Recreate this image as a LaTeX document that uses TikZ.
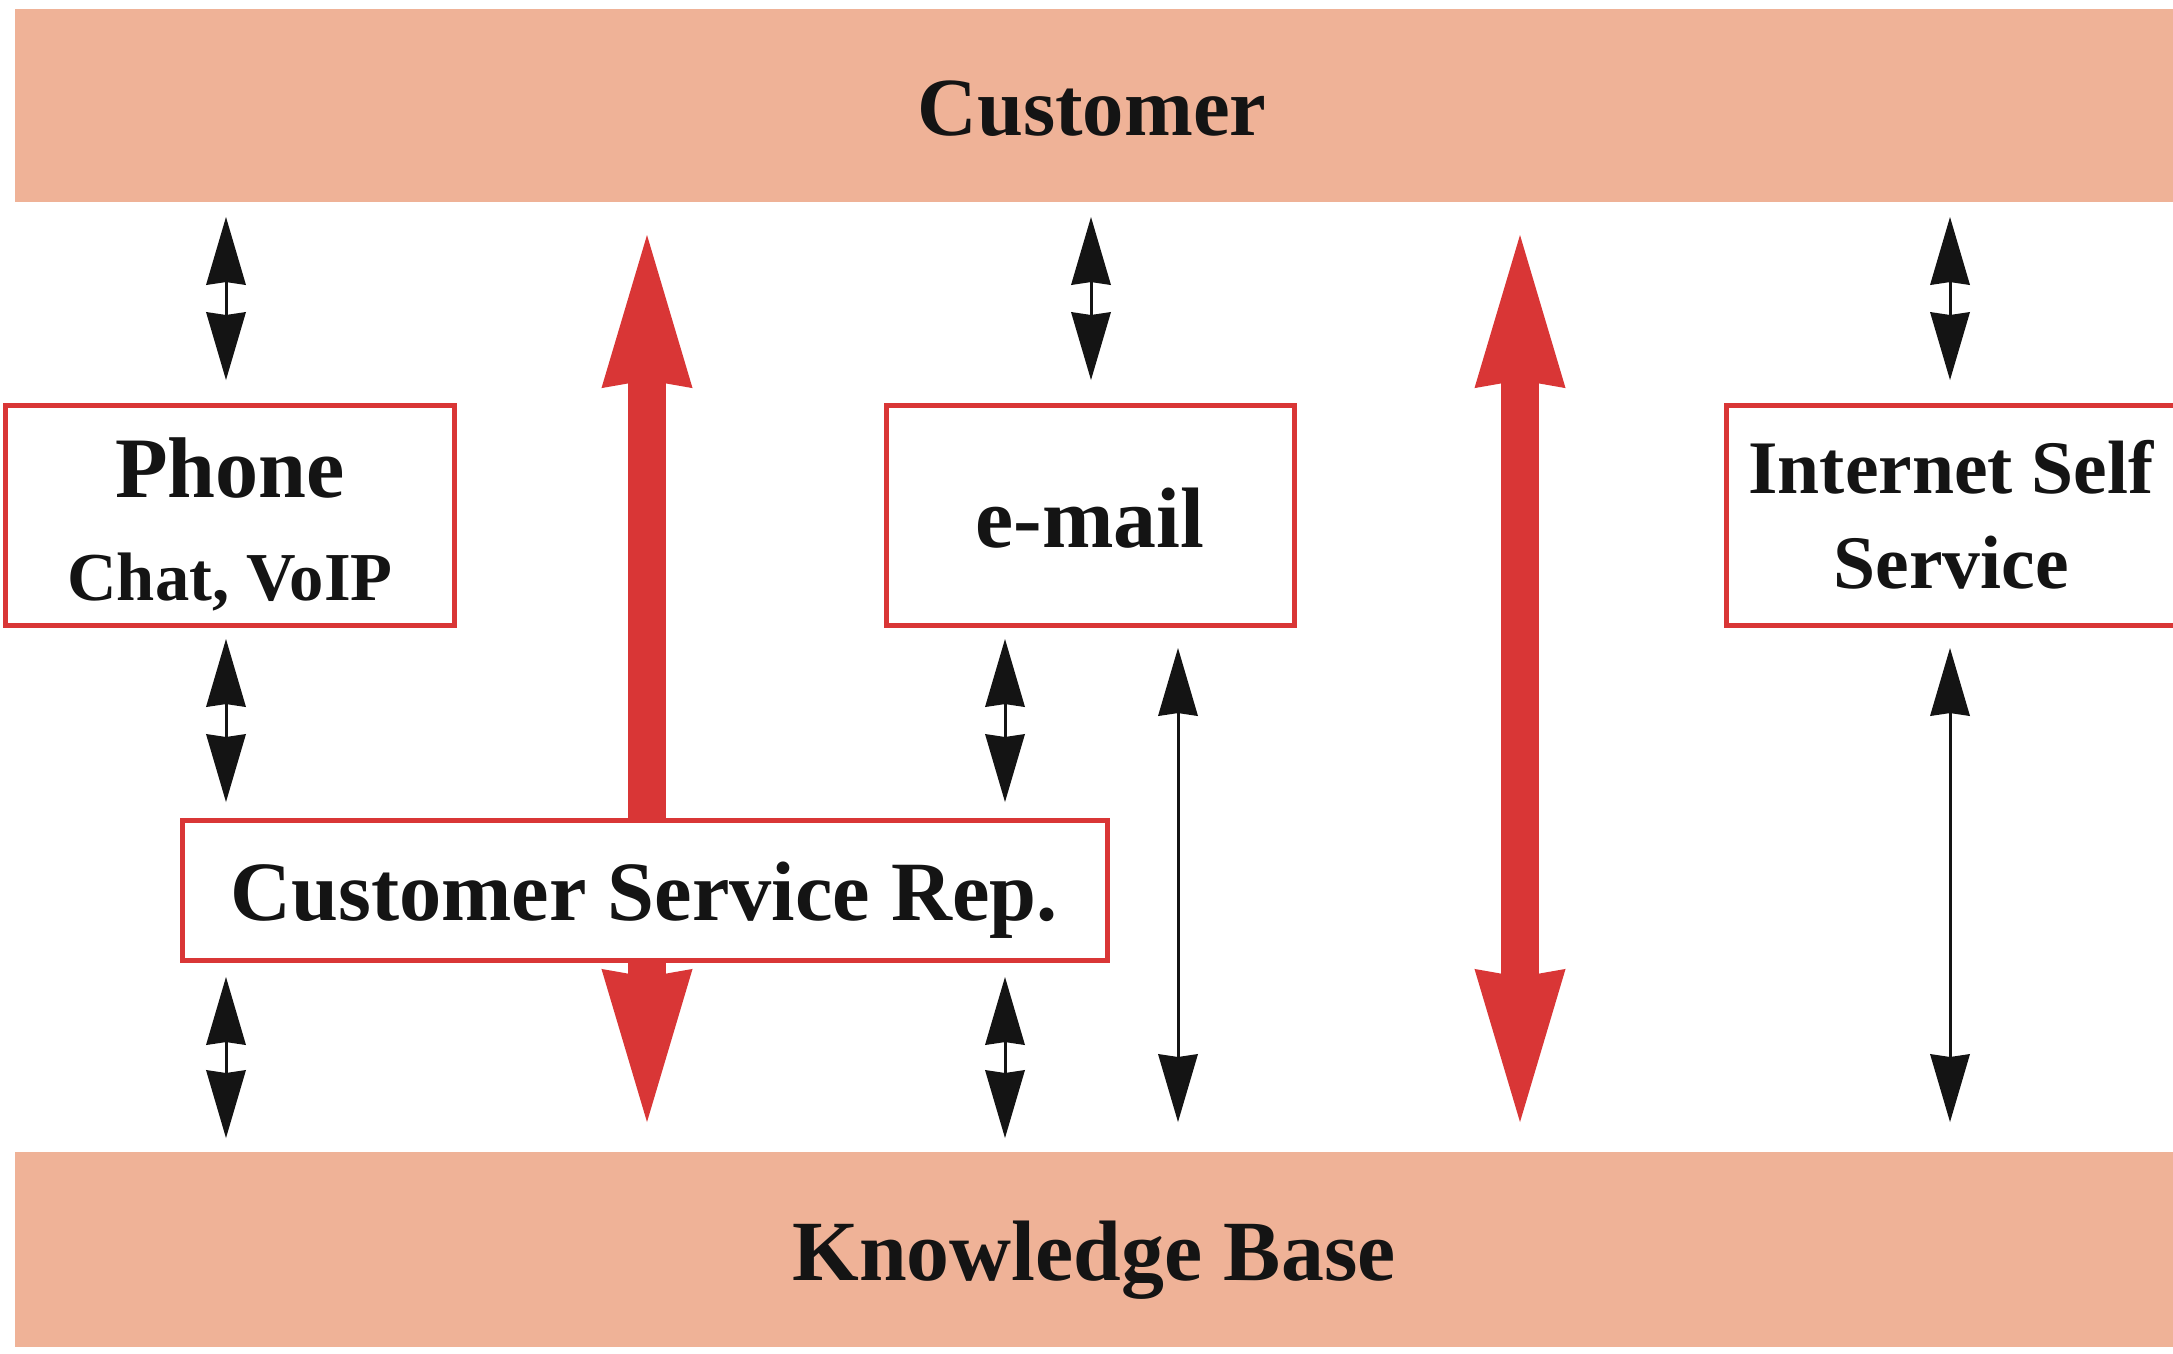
\documentclass[tikz,border=0pt]{standalone}
\usepackage{fontspec}
\setmainfont{Liberation Serif}
\usetikzlibrary{arrows.meta}
\definecolor{band}{RGB}{239,178,151}
\definecolor{myred}{RGB}{217,54,54}
\definecolor{ink}{RGB}{20,20,20}
\tikzset{
  bandbox/.style={fill=band, draw=none, inner sep=0, minimum width=21.74cm},
  chanbox/.style={draw=myred, fill=white, line width=0.5mm, inner sep=0},
  lbl/.style={anchor=base, inner sep=0, text=ink},
  redarrow/.style={myred, line width=3.8mm, {Stealth[length=15.3mm,width=9.1mm,inset=0.8mm,line width=0pt]}-{Stealth[length=15.3mm,width=9.1mm,inset=0.8mm,line width=0pt]}},
  blkarrow/.style={ink, line width=0.3mm, {Stealth[length=6.8mm,width=4mm,inset=0.3mm,line width=0pt]}-{Stealth[length=6.8mm,width=4mm,inset=0.3mm,line width=0pt]}}
}
\newcommand{\fsz}[1]{\bfseries\fontsize{#1}{#1}\selectfont}
\begin{document}
\begin{tikzpicture}[x=0.01cm, y=-0.01cm]
\useasboundingbox (0,0) rectangle (2173,1353);
% bands
\node[bandbox, minimum height=1.93cm] (cust) at (1103,105.5) {};
\node[bandbox, minimum height=1.95cm] (kb) at (1103,1249.5) {};
% red arrows
\coordinate (r1t) at (647,235);
\coordinate (r1b) at (647,1122);
\coordinate (r2t) at (1520,235);
\coordinate (r2b) at (1520,1122);
\draw[redarrow] (r1t) -- (r1b);
\draw[redarrow] (r2t) -- (r2b);
% channel boxes
\node[chanbox, minimum width=4.49cm, minimum height=2.20cm] (phone) at (230,515.5) {};
\node[chanbox, minimum width=4.08cm, minimum height=2.20cm] (email) at (1090.5,515.5) {};
\node[chanbox, minimum width=4.61cm, minimum height=2.20cm] (inet) at (1957,515.5) {};
\node[chanbox, minimum width=9.25cm, minimum height=1.40cm] (csr) at (645,890.5) {};
% black arrows
\coordinate (a1t) at (226,217);  \coordinate (a1b) at (226,380);
\coordinate (a2t) at (226,639);  \coordinate (a2b) at (226,802);
\coordinate (a3t) at (226,977);  \coordinate (a3b) at (226,1138);
\coordinate (b1t) at (1091,217); \coordinate (b1b) at (1091,380);
\coordinate (b2t) at (1005,639); \coordinate (b2b) at (1005,802);
\coordinate (b3t) at (1005,977); \coordinate (b3b) at (1005,1138);
\coordinate (c1t) at (1178,648); \coordinate (c1b) at (1178,1122);
\coordinate (d1t) at (1950,217); \coordinate (d1b) at (1950,380);
\coordinate (d2t) at (1950,648); \coordinate (d2b) at (1950,1122);
\draw[blkarrow] (a1t) -- (a1b);
\draw[blkarrow] (a2t) -- (a2b);
\draw[blkarrow] (a3t) -- (a3b);
\draw[blkarrow] (b1t) -- (b1b);
\draw[blkarrow] (b2t) -- (b2b);
\draw[blkarrow] (b3t) -- (b3b);
\draw[blkarrow] (c1t) -- (c1b);
\draw[blkarrow] (d1t) -- (d1b);
\draw[blkarrow] (d2t) -- (d2b);
% texts
\node[lbl, font=\fsz{23.5}] (custT) at (1092,135) {Customer};
\node[lbl, font=\fsz{24.4}] (kbT) at (1094,1280) {Knowledge Base};
\node[lbl, font=\fsz{24.5}] (phoneT) at (230,497) {Phone};
\node[lbl, font=\fsz{19.5}] (chatT) at (230,600) {Chat, VoIP};
\node[lbl, font=\fsz{24.4}] (emailT) at (1090,547) {e-mail};
\node[lbl, font=\fsz{21.5}] (inetT) at (1951,493) {Internet Self};
\node[lbl, font=\fsz{21.5}] (servT) at (1951,588) {Service};
\node[lbl, font=\fsz{24}] (csrT) at (644,920) {Customer Service Rep.};
\end{tikzpicture}
\end{document}
